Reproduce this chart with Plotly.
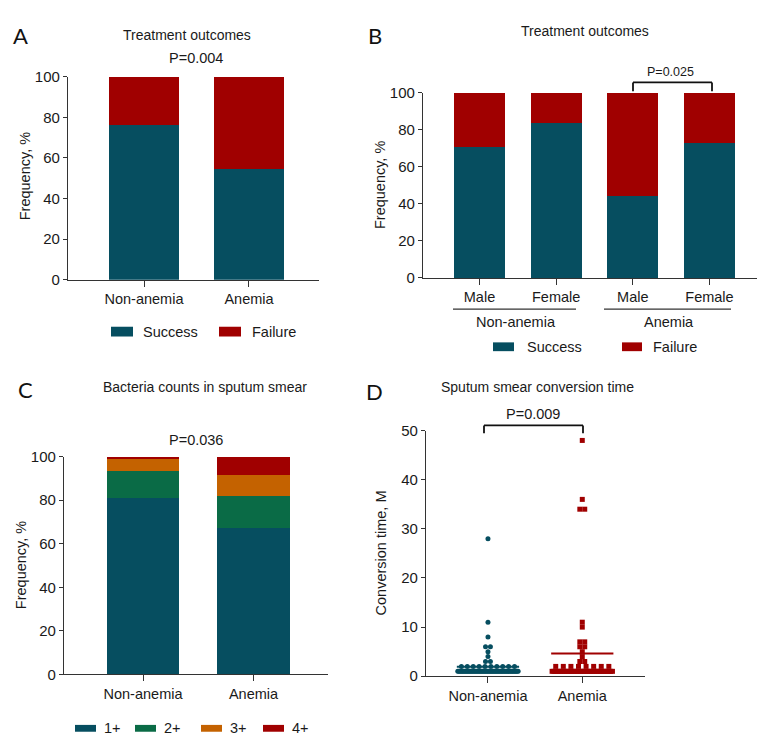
import numpy as np
import plotly.graph_objects as go

W, H = 765, 742

# ---------------- data ----------------
a_groups = ["Non-anemia", "Anemia"]
a_success = [76.4, 54.5]
a_failure = [23.6, 45.5]

b_sex = ["Male", "Female", "Male", "Female"]
b_groups = ["Non-anemia", "Anemia"]
b_success = [70.6, 83.5, 44.5, 72.7]
b_failure = [29.4, 16.5, 55.5, 27.3]

c_groups = ["Non-anemia", "Anemia"]
c_1plus = [80.8, 67.1]
c_2plus = [12.5, 14.8]
c_3plus = [5.7, 9.9]
c_4plus = [1.0, 8.2]

d_groups = ["Non-anemia", "Anemia"]
d_nonanemia_values = [1, 2, 3, 4, 5, 6, 8, 11, 28]
d_nonanemia_counts = [60, 10, 2, 1, 1, 2, 1, 1, 1]
d_anemia_values = [1, 2, 3, 4, 5, 6, 7, 10, 11, 34, 36, 48]
d_anemia_counts = [35, 8, 2, 1, 1, 2, 2, 1, 1, 2, 1, 1]

p_texts = ["P=0.004", "P=0.025", "P=0.036", "P=0.009"]
titles = ["Treatment outcomes", "Treatment outcomes",
          "Bacteria counts in sputum smear", "Sputum smear conversion time"]

# ---------------- style ----------------
TEAL = "#064e60"
RED = "#a00000"
GREEN = "#0a6b46"
ORANGE = "#c46200"
AX = "#333333"
FONT = "Liberation Sans, Arial, sans-serif"


def px(x):
    return x / W


def py(y):
    return 1 - y / H


fig = go.Figure()

# Panel A
xa = list(range(len(a_groups)))
fig.add_trace(go.Bar(x=xa, y=a_success, marker_color=TEAL, width=0.66,
                     xaxis="x", yaxis="y", showlegend=False, marker_line_width=0))
fig.add_trace(go.Bar(x=xa, y=a_failure, marker_color=RED, width=0.66,
                     xaxis="x", yaxis="y", showlegend=False, marker_line_width=0))

# Panel B
xb = list(range(len(b_sex)))
fig.add_trace(go.Bar(x=xb, y=b_success, marker_color=TEAL, width=0.665,
                     xaxis="x2", yaxis="y2", showlegend=False, marker_line_width=0))
fig.add_trace(go.Bar(x=xb, y=b_failure, marker_color=RED, width=0.665,
                     xaxis="x2", yaxis="y2", showlegend=False, marker_line_width=0))

# Panel C
xc = list(range(len(c_groups)))
for vals, col in [(c_1plus, TEAL), (c_2plus, GREEN), (c_3plus, ORANGE), (c_4plus, RED)]:
    fig.add_trace(go.Bar(x=xc, y=vals, marker_color=col, width=0.66,
                         xaxis="x3", yaxis="y3", showlegend=False, marker_line_width=0))

# Panel D: deterministic scatter-dot layout (points with equal value spread sideways)
STEP = 0.052
MAXHALF = 0.32


def spread(values, counts, center):
    xs, ys = [], []
    for v, k in zip(values, counts):
        if k == 1:
            offs = [0.0]
        else:
            if k >= 5:
                half = MAXHALF * (1.0 if k > 20 else 0.88)
            else:
                half = (k - 1) * STEP / 2
            offs = list(np.linspace(-half, half, k))
        xs += [center + o for o in offs]
        ys += [v] * k
    return xs, ys


for i, (vals, cnts, col, sym) in enumerate([
        (d_nonanemia_values, d_nonanemia_counts, TEAL, "circle"),
        (d_anemia_values, d_anemia_counts, RED, "square")]):
    xs, ys = spread(vals, cnts, i)
    fig.add_trace(go.Scatter(x=xs, y=ys, mode="markers", xaxis="x4", yaxis="y4",
                             marker=dict(color=col, size=5, symbol=sym, line_width=0),
                             showlegend=False, cliponaxis=False))
    mean = float(np.average(vals, weights=cnts))
    fig.add_trace(go.Scatter(x=[i - 0.33, i + 0.33], y=[mean, mean], mode="lines",
                             xaxis="x4", yaxis="y4", line=dict(color=col, width=2),
                             showlegend=False))

axis_common = dict(showline=True, linecolor=AX, linewidth=1.3, ticks="outside",
                   tickcolor=AX, tickwidth=1.3, showgrid=False, zeroline=False,
                   fixedrange=True)
xfont = dict(family=FONT, size=14.5, color="#1a1a1a")
yfont = dict(family=FONT, size=15, color="#1a1a1a")

fig.update_layout(
    width=W, height=H, margin=dict(l=0, r=0, t=0, b=0),
    paper_bgcolor="white", plot_bgcolor="white", barmode="stack",
    font=dict(family=FONT, color="#1a1a1a"),
    xaxis=dict(axis_common, domain=[px(60), px(311)], range=[-0.724, 1.667],
               tickvals=xa, ticktext=a_groups, tickfont=xfont, ticklen=6, anchor="y"),
    yaxis=dict(axis_common, domain=[py(269), py(61)], range=[0, 100],
               tickvals=[0, 20, 40, 60, 80, 100], tickfont=yfont, ticklen=4, anchor="x"),
    xaxis2=dict(axis_common, domain=[px(415), px(753)], range=[-0.737, 3.672],
                tickvals=xb, ticktext=b_sex, tickfont=xfont, ticklen=6, anchor="y2"),
    yaxis2=dict(axis_common, domain=[py(267), py(77.7)], range=[0, 100],
                tickvals=[0, 20, 40, 60, 80, 100], tickfont=yfont, ticklen=4, anchor="x2"),
    xaxis3=dict(axis_common, domain=[px(56), px(320)], range=[-0.715, 1.674],
                tickvals=xc, ticktext=c_groups, tickfont=xfont, ticklen=6, anchor="y3"),
    yaxis3=dict(axis_common, domain=[py(672.7), py(450)], range=[0, 100],
                tickvals=[0, 20, 40, 60, 80, 100], tickfont=yfont, ticklen=4, anchor="x3"),
    xaxis4=dict(axis_common, domain=[px(418), px(637)], range=[-0.657, 1.665],
                tickvals=[0, 1], ticktext=d_groups, tickfont=xfont, ticklen=6, anchor="y4"),
    yaxis4=dict(axis_common, domain=[py(674.7), py(423.3)], range=[0, 50],
                tickvals=[0, 10, 20, 30, 40, 50], tickfont=yfont, ticklen=4, anchor="x4"),
)

ann = []


def text(x, y, s, size=14.5, angle=0, family=FONT, color="#1a1a1a"):
    ann.append(dict(x=px(x), y=py(y), xref="paper", yref="paper", text=s,
                    showarrow=False, xanchor="center", yanchor="middle",
                    textangle=angle, font=dict(family=family, size=size, color=color)))


def ltext(x, y, s, size=14.5):
    ann.append(dict(x=px(x), y=py(y), xref="paper", yref="paper", text=s,
                    showarrow=False, xanchor="left", yanchor="middle",
                    font=dict(family=FONT, size=size, color="#1a1a1a")))


# panel letters
for lx, ly, s in [(13, 19, "A"), (367, 19, "B"), (17, 381, "C"), (366, 383, "D")]:
    text(lx, ly, s, size=22, family="Lato, Noto Sans, sans-serif", color="#111")

# titles
text(179, 18, titles[0], size=14)
text(577, 14, titles[1], size=14)
text(197, 379, titles[2], size=14)
text(529, 379, titles[3], size=14)

# y-axis titles
text(17, 163, "Frequency, %", angle=-90)
text(372, 172, "Frequency, %", angle=-90)
text(13, 561, "Frequency, %", angle=-90)
text(373, 549, "Conversion time, M", angle=-90)

# p values
text(188, 42, p_texts[0], size=14.5)
text(662, 56, p_texts[1], size=12.5)
text(188, 433, p_texts[2], size=14.5)
text(525, 406, p_texts[3], size=14.5)

# group labels for panel B
text(508, 312, b_groups[0])
text(661, 312, b_groups[1])

shapes = []


def line(x0, y0, x1, y1, w=1.3, c=AX):
    shapes.append(dict(type="line", xref="paper", yref="paper",
                       x0=px(x0), y0=py(y0), x1=px(x1), y1=py(y1),
                       line=dict(color=c, width=w)))


def rect(x0, y0, x1, y1, c):
    shapes.append(dict(type="rect", xref="paper", yref="paper",
                       x0=px(x0), y0=py(y0), x1=px(x1), y1=py(y1),
                       line=dict(width=0), fillcolor=c))


# B underlines
line(445, 299, 568, 299, w=1.2)
line(596, 299, 723, 299, w=1.2)

# brackets
line(625, 67, 704, 67, w=1.8, c="#111")
line(625, 67, 625, 76, w=1.8, c="#111")
line(704, 67, 704, 76, w=1.8, c="#111")
line(476, 418, 575, 418, w=1.8, c="#111")
line(476, 418, 476, 426, w=1.8, c="#111")
line(575, 418, 575, 426, w=1.8, c="#111")

# legends
rect(103, 317, 125, 327, TEAL); ltext(133, 322, "Success")
rect(211, 317, 233, 327, RED); ltext(242, 322, "Failure")
rect(485, 333, 506, 342, TEAL); ltext(517, 337.5, "Success")
rect(614, 333, 634, 342, RED); ltext(643, 337.5, "Failure")
for sx, lab, col in [(67, "1+", TEAL), (127, "2+", GREEN), (193, "3+", ORANGE), (255, "4+", RED)]:
    rect(sx, 724.5, sx + 21, 731.5, col)
    ltext(sx + 27, 728, lab)

fig.update_layout(annotations=ann, shapes=shapes)
fig.write_html("out.html")
